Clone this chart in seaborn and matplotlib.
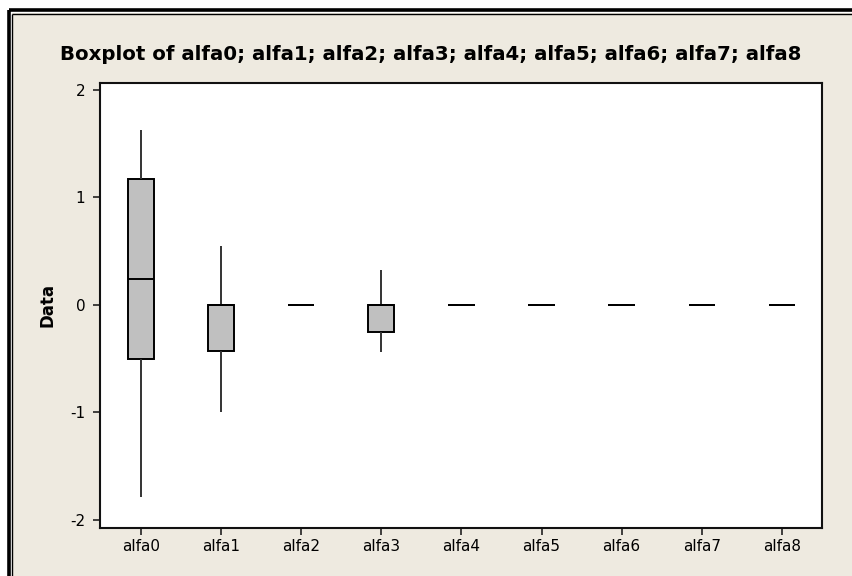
import numpy as np
import pandas as pd
import matplotlib
matplotlib.use("Agg")
import matplotlib.pyplot as plt
from matplotlib.patches import Rectangle
from matplotlib.lines import Line2D
import seaborn as sns

# Five-number summaries (min, Q1, median, Q3, max) for each coefficient
series = ["alfa0", "alfa1", "alfa2", "alfa3", "alfa4", "alfa5", "alfa6", "alfa7", "alfa8"]
alfa0 = [-1.79, -0.50, 0.245, 1.17, 1.63]
alfa1 = [-1.00, -0.43, 0.0, 0.0, 0.545]
alfa2 = [0.0, 0.0, 0.0, 0.0, 0.0]
alfa3 = [-0.44, -0.25, 0.0, 0.0, 0.33]
alfa4 = [0.0, 0.0, 0.0, 0.0, 0.0]
alfa5 = [0.0, 0.0, 0.0, 0.0, 0.0]
alfa6 = [0.0, 0.0, 0.0, 0.0, 0.0]
alfa7 = [0.0, 0.0, 0.0, 0.0, 0.0]
alfa8 = [0.0, 0.0, 0.0, 0.0, 0.0]
yticks = [-2, -1, 0, 1, 2]

summaries = [alfa0, alfa1, alfa2, alfa3, alfa4, alfa5, alfa6, alfa7, alfa8]
df = pd.DataFrame({
    "series": np.repeat(series, 5),
    "Data": np.concatenate(summaries),
})

W, H = 853, 576
BG = "#EEEAE0"
fig = plt.figure(figsize=(W / 100, H / 100), dpi=100)
fig.patch.set_facecolor("white")

# Panel background and double border (top and left edges)
def fx(px):
    return px / W

def fy(py):
    return 1 - py / H

fig.patches.append(Rectangle((fx(12), 0), 1, fy(13), transform=fig.transFigure,
                             facecolor=BG, edgecolor="none", zorder=-10))
for off, lw in [(8.5, 2.6), (12.5, 1.0)]:
    fig.lines.append(Line2D([fx(off), fx(off)], [0, fy(off + 1.5)], transform=fig.transFigure,
                            color="black", lw=lw, solid_capstyle="butt", zorder=-5))
    fig.lines.append(Line2D([fx(off), 1], [fy(off + 1.5), fy(off + 1.5)], transform=fig.transFigure,
                            color="black", lw=lw, solid_capstyle="butt", zorder=-5))

ax = fig.add_axes([fx(100), fy(527.5), fx(822) - fx(100), fy(83) - fy(527.5)])
ax.set_zorder(1)
ax.set_facecolor("white")

sns.boxplot(
    data=df, x="series", y="Data", ax=ax, order=series,
    whis=np.inf, width=0.33, showcaps=False, fliersize=0,
    boxprops=dict(facecolor="#C0C0C0", edgecolor="black", linewidth=1.4),
    medianprops=dict(color="black", linewidth=1.4),
    whiskerprops=dict(color="#333333", linewidth=1.4),
)

ax.set_xlim(-0.51, 8.5)
ax.set_ylim(-2.07, 2.065)
ax.set_yticks(yticks)
ax.set_yticklabels([str(t) for t in yticks])

ax.tick_params(axis="both", direction="out", length=5, width=1.2, color="#222222",
               labelsize=11)
ax.tick_params(axis="y", pad=5.5)
ax.tick_params(axis="x", pad=3)
for s in ax.spines.values():
    s.set_color("#111111")
    s.set_linewidth(1.5)

ax.set_xlabel("")
ax.set_ylabel("Data", fontsize=12, fontweight="bold")
ax.yaxis.set_label_coords((48 - 100) / 722, 0.5)
ax.yaxis.label.set_verticalalignment("center")

fig.text(fx(430.5), fy(54), "Boxplot of " + "; ".join(series),
         ha="center", va="center", fontsize=14.2, fontweight="bold")

fig.savefig("out.png", dpi=100, facecolor=fig.get_facecolor())
